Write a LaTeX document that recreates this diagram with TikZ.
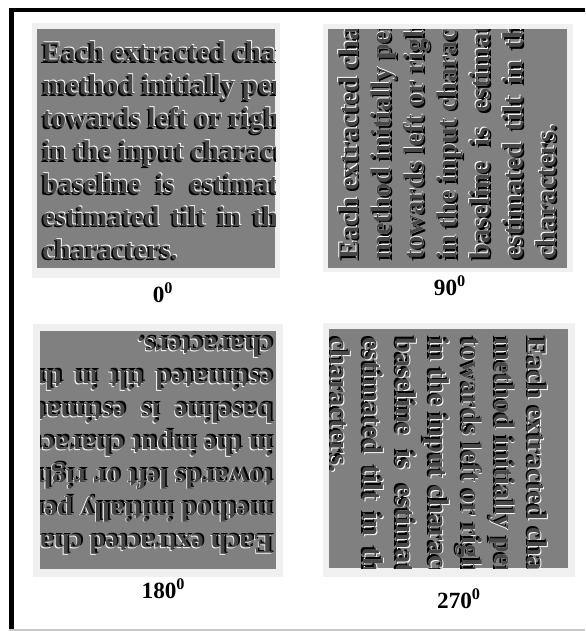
\documentclass[tikz,border=0pt]{standalone}
\usepackage{fontspec}
\setmainfont{Liberation Serif}

\definecolor{panelgray}{RGB}{128,128,128}
\definecolor{edgegray}{RGB}{240,240,240}
\definecolor{rulegray}{RGB}{200,200,200}
\definecolor{inkgray}{RGB}{72,72,72}

\newcommand{\tilttext}{%
Each extracted chara\\
method initially perf\\
towards left or right\\
in the input character\\
baseline\hspace{0.52em}is\hspace{0.52em}estimate\\
estimated\hspace{0.4em}tilt\hspace{0.4em}in\hspace{0.4em}the\\
characters.}

% embossed block: rotation, anchor, name
\newcommand{\tiltblock}[3]{%
  \begin{scope}[shift={#2}, rotate=#1]
    \node[para, text=black, rotate=#1] (#3s) at (-1.6,1.6) {\tilttext};
    \node[para, text=white, rotate=#1] (#3h) at (0.8,-0.8) {\tilttext};
    \node[para, text=inkgray, rotate=#1] (#3) at (0,0) {\tilttext};
  \end{scope}}

\tikzset{
  para/.style={anchor=north west, inner sep=0pt, align=left,
    font=\fontsize{20.3}{23.4}\selectfont\bfseries},
  deg/.style={anchor=base, inner sep=0pt,
    font=\fontsize{16.5}{19}\selectfont\bfseries},
}

\begin{document}
\begin{tikzpicture}[x=0.025cm, y=-0.025cm]
    \useasboundingbox (0,0) rectangle (585,631);
	% outer box
	\draw [line width=0.1cm] (9,10) -- (585,10);
	\draw [line width=0.125cm] (11.5,8) -- (11.5,631);
	\draw [rulegray, line width=0.05cm] (9,629.5) -- (585,629.5);
	% frames
	\fill [edgegray] (32,23) rectangle (280,278);
	\fill [edgegray] (323,24) rectangle (573,272);
	\fill [edgegray] (33,324) rectangle (283,577);
	\fill [edgegray] (323,323) rectangle (575,577);
	% 0
	\begin{scope}
	\clip (37,29) rectangle (275,268);
	\fill [panelgray] (37,29) rectangle (275,268);
	\tiltblock{0}{(42,41.7)}{p0}
	\end{scope}
	% 90
	\begin{scope}
	\clip (328,29) rectangle (567,268);
	\fill [panelgray] (328,29) rectangle (567,268);
	\tiltblock{90}{(338,260)}{p90}
	\end{scope}
	% 180
	\begin{scope}
	\clip (40,331) rectangle (276,569);
	\fill [panelgray] (40,331) rectangle (276,569);
	\tiltblock{180}{(273,555)}{p180}
	\end{scope}
	% 270
	\begin{scope}
	\clip (329,329) rectangle (568,568);
	\fill [panelgray] (329,329) rectangle (568,568);
	\tiltblock{-90}{(548,337)}{p270}
	\end{scope}
	% labels
	\node [deg] (d0) at (163,302) {0\textsuperscript{0}};
	\node [deg] (d90) at (450,295) {90\textsuperscript{0}};
	\node [deg] (d180) at (163.5,598) {180\textsuperscript{0}};
	\node [deg] (d270) at (459,608) {270\textsuperscript{0}};
\end{tikzpicture}
\end{document}
